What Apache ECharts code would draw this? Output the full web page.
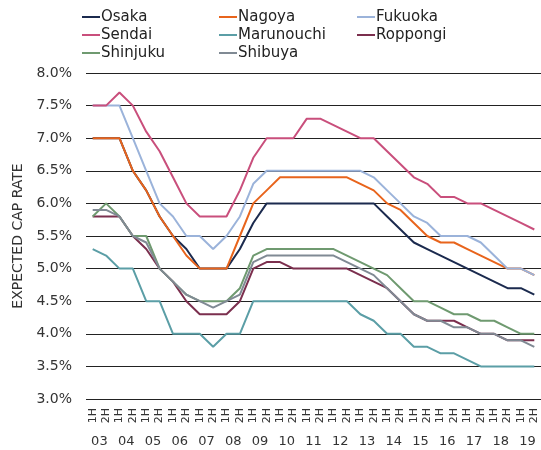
<!DOCTYPE html>
<html>
<head>
<meta charset="utf-8">
<script src="https://cdn.jsdelivr.net/npm/echarts@6/dist/echarts.min.js"></script>
<style>
  html, body { margin: 0; padding: 0; background: #fff; }
  #chart { width: 541px; height: 450px; }
</style>
</head>
<body>
<div id="chart"></div>
<script>
  var halves = [];
  var years = ['03', '04', '05', '06', '07', '08', '09', '10', '11', '12', '13', '14', '15', '16', '17', '18', '19'];
  years.forEach(function () { halves.push('1H', '2H'); });

  var osaka = [7.0, 7.0, 7.0, 6.5, 6.2, 5.8, 5.5, 5.3, 5.0, 5.0, 5.0, 5.3, 5.7, 6.0, 6.0, 6.0, 6.0, 6.0, 6.0, 6.0, 6.0, 6.0, 5.8, 5.6, 5.4, 5.3, 5.2, 5.1, 5.0, 4.9, 4.8, 4.7, 4.7, 4.6];
  var nagoya = [7.0, 7.0, 7.0, 6.5, 6.2, 5.8, 5.5, 5.2, 5.0, 5.0, 5.0, 5.5, 6.0, 6.2, 6.4, 6.4, 6.4, 6.4, 6.4, 6.4, 6.3, 6.2, 6.0, 5.9, 5.7, 5.5, 5.4, 5.4, 5.3, 5.2, 5.1, 5.0, 5.0, 4.9];
  var fukuoka = [7.5, 7.5, 7.5, 7.0, 6.5, 6.0, 5.8, 5.5, 5.5, 5.3, 5.5, 5.8, 6.3, 6.5, 6.5, 6.5, 6.5, 6.5, 6.5, 6.5, 6.5, 6.4, 6.2, 6.0, 5.8, 5.7, 5.5, 5.5, 5.5, 5.4, 5.2, 5.0, 5.0, 4.9];
  var sendai = [7.5, 7.5, 7.7, 7.5, 7.1, 6.8, 6.4, 6.0, 5.8, 5.8, 5.8, 6.2, 6.7, 7.0, 7.0, 7.0, 7.3, 7.3, 7.2, 7.1, 7.0, 7.0, 6.8, 6.6, 6.4, 6.3, 6.1, 6.1, 6.0, 6.0, 5.9, 5.8, 5.7, 5.6];
  var marunouchi = [5.3, 5.2, 5.0, 5.0, 4.5, 4.5, 4.0, 4.0, 4.0, 3.8, 4.0, 4.0, 4.5, 4.5, 4.5, 4.5, 4.5, 4.5, 4.5, 4.5, 4.3, 4.2, 4.0, 4.0, 3.8, 3.8, 3.7, 3.7, 3.6, 3.5, 3.5, 3.5, 3.5, 3.5];
  var roppongi = [5.8, 5.8, 5.8, 5.5, 5.3, 5.0, 4.8, 4.5, 4.3, 4.3, 4.3, 4.5, 5.0, 5.1, 5.1, 5.0, 5.0, 5.0, 5.0, 5.0, 4.9, 4.8, 4.7, 4.5, 4.3, 4.2, 4.2, 4.2, 4.1, 4.0, 4.0, 3.9, 3.9, 3.9];
  var shinjuku = [5.8, 6.0, 5.8, 5.5, 5.5, 5.0, 4.8, 4.6, 4.5, 4.5, 4.5, 4.7, 5.2, 5.3, 5.3, 5.3, 5.3, 5.3, 5.3, 5.2, 5.1, 5.0, 4.9, 4.7, 4.5, 4.5, 4.4, 4.3, 4.3, 4.2, 4.2, 4.1, 4.0, 4.0];
  var shibuya = [5.9, 5.9, 5.8, 5.5, 5.4, 5.0, 4.8, 4.6, 4.5, 4.4, 4.5, 4.6, 5.1, 5.2, 5.2, 5.2, 5.2, 5.2, 5.2, 5.1, 5.0, 4.9, 4.7, 4.5, 4.3, 4.2, 4.2, 4.1, 4.1, 4.0, 4.0, 3.9, 3.9, 3.8];

  var font = 'DejaVu Sans';
  var chart = echarts.init(document.getElementById('chart'));

  function line(name, data, color) {
    return {
      name: name,
      type: 'line',
      data: data,
      symbol: 'none',
      lineStyle: { color: color, width: 2 },
      itemStyle: { color: color }
    };
  }

  function legend(names, left) {
    return {
      data: names,
      orient: 'vertical',
      left: left,
      top: 8,
      itemGap: 0,
      itemWidth: 18,
      itemHeight: 2,
      icon: 'rect',
      padding: 0,
      textStyle: { fontFamily: font, fontSize: 15, color: '#222', lineHeight: 18, padding: [0, 0, 0, -4] }
    };
  }

  var option = {
    animation: false,
    legend: [
      legend(['Osaka', 'Sendai', 'Shinjuku'], 82),
      legend(['Nagoya', 'Marunouchi', 'Shibuya'], 219),
      legend(['Fukuoka', 'Roppongi'], 357)
    ],
    grid: { left: 86, right: 0, top: 73, bottom: 51 },
    xAxis: [
      {
        type: 'category',
        data: halves,
        boundaryGap: true,
        axisLine: { show: false },
        axisTick: { show: false },
        axisLabel: { rotate: 90, fontFamily: font, fontSize: 11, color: '#333', margin: 9, interval: 0 }
      },
      {
        type: 'category',
        data: years,
        position: 'bottom',
        offset: 30,
        axisLine: { show: false },
        axisTick: { show: false },
        splitLine: { show: false },
        axisLabel: { fontFamily: font, fontSize: 13, color: '#333', margin: 6, interval: 0 }
      }
    ],
    yAxis: {
      type: 'value',
      min: 3,
      max: 8,
      interval: 0.5,
      name: 'EXPECTED CAP RATE',
      nameLocation: 'middle',
      nameGap: 55,
      nameTextStyle: { fontFamily: font, fontSize: 14, color: '#333' },
      axisLine: { show: false },
      axisTick: { show: false },
      splitLine: { lineStyle: { color: '#222', width: 1 } },
      axisLabel: {
        fontFamily: font,
        fontSize: 14,
        color: '#333',
        margin: 14,
        formatter: function (v) { return v.toFixed(1) + '%'; }
      }
    },
    series: [
      line('Osaka', osaka, '#1b2a4e'),
      line('Nagoya', nagoya, '#e8641c'),
      line('Fukuoka', fukuoka, '#9bb3da'),
      line('Sendai', sendai, '#c94f7c'),
      line('Marunouchi', marunouchi, '#5b9ea6'),
      line('Roppongi', roppongi, '#7b2f4e'),
      line('Shinjuku', shinjuku, '#6f9a70'),
      line('Shibuya', shibuya, '#808a94')
    ]
  };

  chart.setOption(option);
</script>
</body>
</html>
